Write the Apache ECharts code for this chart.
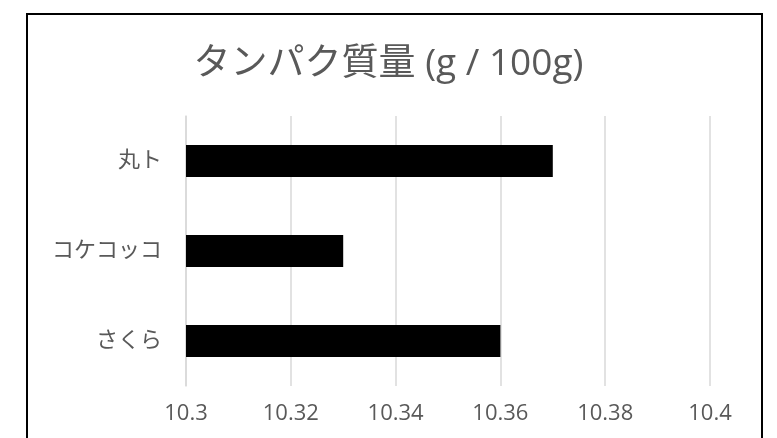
<!DOCTYPE html>
<html>
<head>
<meta charset="utf-8">
<script src="https://cdn.jsdelivr.net/npm/echarts@6/dist/echarts.min.js"></script>
<style>
  html, body { margin: 0; padding: 0; background: #fff; }
  #chart { width: 777px; height: 438px; }
</style>
</head>
<body>
<div id="chart"></div>
<script>
const categories = ["さくら", "コケコッコ", "丸ト"];
const protein = [10.36, 10.33, 10.37];
const xTicks = [10.3, 10.32, 10.34, 10.36, 10.38, 10.4];

const font = "'Open Sans', 'Noto Sans CJK JP', sans-serif";
const textColor = "#595959";

const chartDom = document.getElementById("chart");
const myChart = echarts.init(chartDom);

const option = {
  animation: false,
  title: {
    text: "タンパク質量 (g / 100g)",
    left: "center",
    top: 41,
    textStyle: {
      fontFamily: font,
      fontSize: 37,
      fontWeight: "normal",
      color: textColor,
    },
  },
  graphic: [
    {
      type: "rect",
      shape: { x: 27, y: 14, width: 735, height: 450 },
      style: { fill: "none", stroke: "#000", lineWidth: 2 },
      z: -1,
    },
  ],
  grid: {
    left: 186,
    right: 67,
    top: 116,
    bottom: 52,
  },
  xAxis: {
    type: "value",
    min: 10.3,
    max: 10.4,
    interval: 0.02,
    axisLine: { show: false },
    axisTick: { show: false },
    axisLabel: {
      fontFamily: font,
      fontSize: 22,
      color: textColor,
      margin: 17,
      formatter: (v) => {
        const hit = xTicks.find((t) => Math.abs(t - v) < 1e-9);
        return hit !== undefined ? String(hit) : "";
      },
    },
    splitLine: { lineStyle: { color: "#d9d9d9", width: 1.5 } },
  },
  yAxis: {
    type: "category",
    data: categories,
    axisLine: { lineStyle: { color: "#d9d9d9", width: 1.5 } },
    axisTick: { show: false },
    axisLabel: {
      fontFamily: font,
      fontSize: 22,
      color: textColor,
      margin: 24,
    },
  },
  series: [
    {
      name: "タンパク質量",
      type: "bar",
      data: protein,
      barWidth: 32,
      itemStyle: { color: "#000" },
    },
  ],
};

myChart.setOption(option);

window.addEventListener("resize", function () {
  myChart.resize();
});
</script>
</body>
</html>
